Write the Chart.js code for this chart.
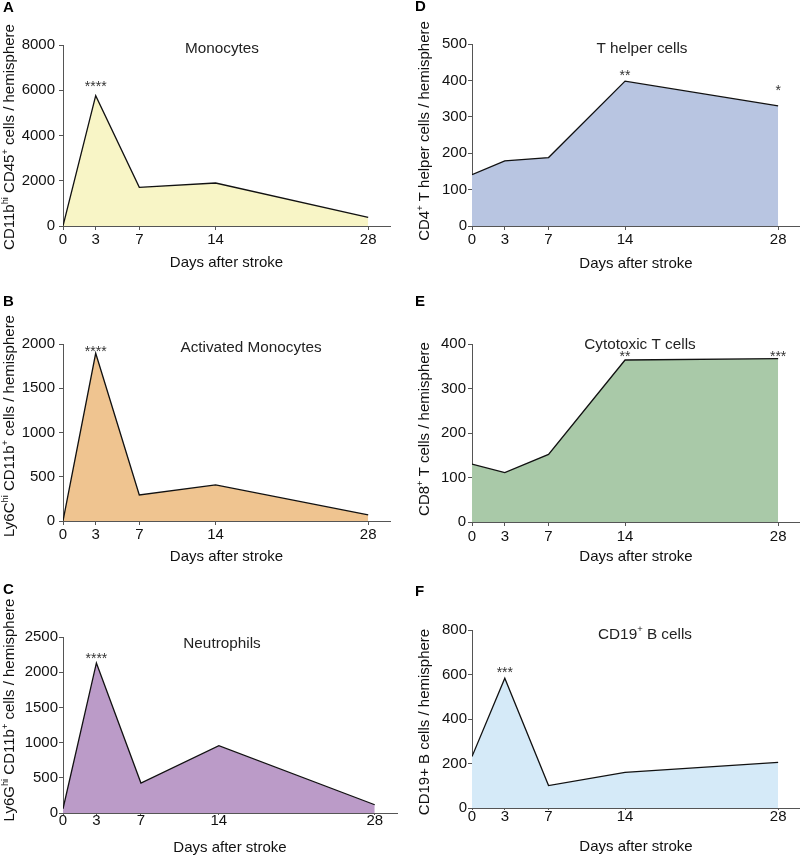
<!DOCTYPE html>
<html>
<head>
<meta charset="utf-8">
<script src="https://cdn.jsdelivr.net/npm/chart.js@4.4.1/dist/chart.umd.min.js"></script>
<style>
	body { margin: 0; background: #fff; }
	#fig { position: relative; width: 800px; height: 857px; }
	#fig canvas { position: absolute; }
</style>
</head>
<body>
<div id="fig">
	<canvas id="cA" width="400" height="285" style="left:0;top:0"></canvas>
	<canvas id="cB" width="400" height="285" style="left:0;top:285px"></canvas>
	<canvas id="cC" width="400" height="287" style="left:0;top:570px"></canvas>
	<canvas id="cD" width="400" height="285" style="left:400px;top:0"></canvas>
	<canvas id="cE" width="400" height="285" style="left:400px;top:285px"></canvas>
	<canvas id="cF" width="400" height="287" style="left:400px;top:570px"></canvas>
</div>
<script>
"use strict";

// days after stroke (x) and tick labels
const days = [0, 3, 7, 14, 28];
const dayTicks = [0, 3, 7, 14, 28];

// cells / hemisphere
const monocytes = [0, 5760, 1710, 1900, 380];
const activatedMonocytes = [0, 1895, 294, 407, 68];
const neutrophils = [60, 2132, 425, 957, 117];
const tHelperCells = [141, 179, 188, 398, 330];
const cytotoxicTCells = [130, 111, 152, 364, 367];
const bCells = [231, 583, 101, 160, 205];

// y tick labels
const monoTicks = [0, 2000, 4000, 6000, 8000];
const actMonoTicks = [0, 500, 1000, 1500, 2000];
const neutroTicks = [0, 500, 1000, 1500, 2000, 2500];
const tHelperTicks = [0, 100, 200, 300, 400, 500];
const cytoTicks = [0, 100, 200, 300, 400];
const bCellTicks = [0, 200, 400, 600, 800];

// significance marks: [day, value, text]
const monoStars = [[3, 6300, "****"]];
const actMonoStars = [[3, 1958, "****"]];
const neutroStars = [[3, 2250, "****"]];
const tHelperStars = [[14, 422, "**"], [28, 381, "*"]];
const cytoStars = [[14, 380, "**"], [28, 380, "***"]];
const bCellStars = [[3, 624, "***"]];

const FONT = "'Liberation Sans', Arial, 'DejaVu Sans', sans-serif";

const panels = [
	{ id: "cA", letter: "A", title: "Monocytes", yTitle: "CD11b^{hi} CD45^{+} cells / hemisphere",
		values: monocytes, ticks: monoTicks, stars: monoStars, fill: "#f8f5c6",
		left: 63, top: 45, bottom: 226, right: 390, tickX: 4, padX: 1, padY: 4, xTitlePad: 12.7,
		titleX: 222, titleY: 47, letterX: 3, letterY: 8, yTitleX: 9, yTitleY: 137 },
	{ id: "cB", letter: "B", title: "Activated Monocytes", yTitle: "Ly6C^{hi} CD11b^{+} cells / hemisphere",
		values: activatedMonocytes, ticks: actMonoTicks, stars: actMonoStars, fill: "#efc490",
		left: 63, top: 59, bottom: 236, right: 390, tickX: 4, padX: 1, padY: 4, xTitlePad: 4.3,
		titleX: 251, titleY: 61, letterX: 3, letterY: 17, yTitleX: 9, yTitleY: 141 },
	{ id: "cC", letter: "C", title: "Neutrophils", yTitle: "Ly6G^{hi} CD11b^{+} cells / hemisphere",
		values: neutrophils, ticks: neutroTicks, stars: neutroStars, fill: "#bb9bc8",
		left: 63, top: 67, bottom: 243, right: 397, tickX: 2, padX: -3.5, padY: 1, xTitlePad: 0,
		titleX: 222, titleY: 72, letterX: 3, letterY: 20, yTitleX: 9, yTitleY: 140 },
	{ id: "cD", letter: "D", title: "T helper cells", yTitle: "CD4^{+} T helper cells / hemisphere",
		values: tHelperCells, ticks: tHelperTicks, stars: tHelperStars, fill: "#b8c5e1",
		left: 72, top: 44, bottom: 226, right: 400, tickX: 4, padX: 1.3, padY: 1, xTitlePad: 12,
		titleX: 242, titleY: 47, letterX: 15, letterY: 7, yTitleX: 23.5, yTitleY: 131 },
	{ id: "cE", letter: "E", title: "Cytotoxic T cells", yTitle: "CD8^{+} T cells / hemisphere",
		values: cytotoxicTCells, ticks: cytoTicks, stars: cytoStars, fill: "#a9c9a8",
		left: 72, top: 59, bottom: 237, right: 400, tickX: 4, padX: 1.7, padY: 2, xTitlePad: 4.3,
		titleX: 240, titleY: 58, letterX: 15, letterY: 17, yTitleX: 23.5, yTitleY: 144 },
	{ id: "cF", letter: "F", title: "CD19^{+} B cells", yTitle: "CD19+ B cells / hemisphere",
		values: bCells, ticks: bCellTicks, stars: bCellStars, fill: "#d5eaf8",
		left: 72, top: 60, bottom: 238, right: 400, tickX: 2, padX: -2.4, padY: 1, xTitlePad: 0.7,
		titleX: 245, titleY: 63, letterX: 15, letterY: 22, yTitleX: 23.5, yTitleY: 152 }
];

// text with ^{...} superscripts, centred on (0,0)
function drawRich(ctx, str, size) {
	const parts = [];
	str.split(/(\^\{[^}]*\})/).forEach(s => {
		if (!s) return;
		if (s.startsWith("^{")) parts.push({ t: s.slice(2, -1), sup: true });
		else parts.push({ t: s, sup: false });
	});
	let w = 0;
	parts.forEach(p => {
		ctx.font = (p.sup ? size * 0.62 : size) + "px " + FONT;
		p.w = ctx.measureText(p.t).width;
		w += p.w;
	});
	let x = -w / 2;
	const base = size * 0.36;
	ctx.textAlign = "left";
	ctx.textBaseline = "alphabetic";
	parts.forEach(p => {
		ctx.font = (p.sup ? size * 0.62 : size) + "px " + FONT;
		ctx.fillText(p.t, x, p.sup ? base - size * 0.42 : base);
		x += p.w;
	});
}

const textPlugin = {
	id: "panelText",
	afterDraw(chart) {
		const p = chart.options.plugins.panelText;
		const ctx = chart.ctx;
		const xs = chart.scales.x, ys = chart.scales.y;
		ctx.save();
		ctx.fillStyle = "#000";
		ctx.font = "bold 15px " + FONT;
		ctx.textAlign = "left";
		ctx.textBaseline = "middle";
		ctx.fillText(p.letter, p.letterX, p.letterY);

		ctx.fillStyle = "#222";
		ctx.save();
		ctx.translate(p.titleX, p.titleY);
		drawRich(ctx, p.title, 15.3);
		ctx.restore();

		ctx.save();
		ctx.translate(p.yTitleX, p.yTitleY);
		ctx.rotate(-Math.PI / 2);
		ctx.fillStyle = "#111";
		drawRich(ctx, p.yTitle, 15);
		ctx.restore();

		ctx.fillStyle = "#333";
		ctx.font = "14px " + FONT;
		ctx.textAlign = "center";
		ctx.textBaseline = "alphabetic";
		p.stars.forEach(([d, v, s]) => {
			ctx.fillText(s, xs.getPixelForValue(d), ys.getPixelForValue(v) + 8);
		});
		ctx.restore();
	}
};

function makeChart(p) {
	const canvas = document.getElementById(p.id);
	const H = canvas.height;
	const border = { display: true, color: "#555", width: 1 };
	return new Chart(canvas, {
		type: "line",
		data: {
			datasets: [{
				data: days.map((d, i) => ({ x: d, y: p.values[i] })),
				borderColor: "#111",
				borderWidth: 1.3,
				backgroundColor: p.fill,
				fill: "origin",
				pointRadius: 0,
				tension: 0
			}]
		},
		options: {
			responsive: false,
			animation: false,
			events: [],
			layout: { autoPadding: false, padding: { top: p.top, right: 400 - p.right, left: 0, bottom: 0 } },
			plugins: {
				legend: { display: false },
				tooltip: { enabled: false },
				panelText: p
			},
			scales: {
				x: {
					type: "linear",
					min: 0,
					max: 30,
					z: 1,
					border: border,
					grid: { drawOnChartArea: false, drawTicks: true, tickLength: p.tickX, color: "#555" },
					afterBuildTicks: s => { s.ticks = dayTicks.map(v => ({ value: v })); },
					afterFit: s => { s.height = H - p.bottom; },
					ticks: { color: "#111", font: { family: FONT, size: 15 }, padding: p.padX, maxRotation: 0,
						callback: v => String(v) },
					title: { display: true, text: "Days after stroke", color: "#111",
						font: { family: FONT, size: 15 }, padding: { top: 0, bottom: p.xTitlePad } }
				},
				y: {
					type: "linear",
					min: 0,
					max: p.ticks[p.ticks.length - 1],
					z: 1,
					border: border,
					grid: { drawOnChartArea: false, drawTicks: true, tickLength: 4, color: "#555" },
					afterBuildTicks: s => { s.ticks = p.ticks.map(v => ({ value: v })); },
					afterFit: s => { s.width = p.left; },
					ticks: { color: "#111", font: { family: FONT, size: 15 }, padding: p.padY,
						callback: v => String(v) },
					title: { display: false }
				}
			}
		},
		plugins: [textPlugin]
	});
}

panels.forEach(makeChart);
</script>
</body>
</html>
